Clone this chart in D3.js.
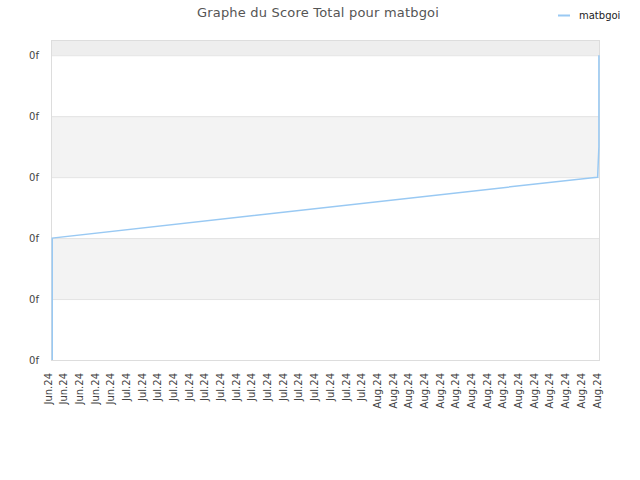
<!DOCTYPE html>
<html><head><meta charset="utf-8">
<script src="https://cdn.jsdelivr.net/npm/d3@7"></script>
<style>body{margin:0;background:#fff;}</style>
</head><body>
<svg id="c" width="640" height="480"></svg>
<script>
const title = "Graphe du Score Total pour matbgoi";
const seriesName = "matbgoi";
const xLabels = [
 "Jun.24","Jun.24","Jun.24","Jun.24","Jun.24",
 "Jul.24","Jul.24","Jul.24","Jul.24","Jul.24","Jul.24","Jul.24","Jul.24",
 "Jul.24","Jul.24","Jul.24","Jul.24","Jul.24","Jul.24","Jul.24","Jul.24",
 "Aug.24","Aug.24","Aug.24","Aug.24","Aug.24","Aug.24","Aug.24","Aug.24",
 "Aug.24","Aug.24","Aug.24","Aug.24","Aug.24","Aug.24","Aug.24"];
const yTicks = [0,1,2,3,4,5];
const yTickLabels = ["0f","0f","0f","0f","0f","0f"];
// series: position along the category axis (index) and score value
const seriesX = [0.08, 0.08, 0.08, 0.08, 0.08, 34.82, 34.85, 34.93, 34.93];
const seriesY = [0, 0.2, 0.6, 1.4, 2.0, 3.0, 3.0, 3.5, 5.0];

const svg = d3.select("#c");
const m = {l:51, r:600, t:40, b:360};
const x = d3.scaleLinear().domain([0, xLabels.length-1]).range([m.l, m.r]);
const y = d3.scaleLinear().domain([0, 5.25]).range([m.b, m.t]);

// bands
const bands = [[5,5.25,"#eeeeee"],[3,4,"#f3f3f3"],[1,2,"#f3f3f3"]];
svg.selectAll("rect.band").data(bands).enter().append("rect")
  .attr("x", m.l).attr("width", m.r-m.l)
  .attr("y", d=>y(d[1])).attr("height", d=>y(d[0])-y(d[1]))
  .attr("fill", d=>d[2]);
// grid lines
svg.selectAll("line.g").data(yTicks.slice(1)).enter().append("line")
  .attr("x1", m.l).attr("x2", m.r).attr("y1", d=>y(d)+0.5).attr("y2", d=>y(d)+0.5)
  .attr("stroke","#e3e3e3");
// frame
svg.append("rect").attr("x", m.l+0.5).attr("y", m.t+0.5).attr("width", m.r-m.l-1).attr("height", m.b-m.t)
  .attr("fill","none").attr("stroke","#dddddd");

// y axis
const ya = d3.axisLeft(y).tickValues(yTicks).tickSize(0).tickPadding(12)
  .tickFormat((d,i)=>yTickLabels[i]);
const yg = svg.append("g").attr("transform",`translate(${m.l},0)`).call(ya);
yg.select(".domain").remove();
yg.selectAll("text").attr("font-family","DejaVu Sans").attr("font-size","10px").attr("fill","#444");

// x axis
const xa = d3.axisBottom(x).tickValues(d3.range(xLabels.length)).tickSize(0).tickFormat(i=>xLabels[i]);
const xg = svg.append("g").attr("transform",`translate(0,${m.b})`).call(xa);
xg.select(".domain").remove();
xg.selectAll("text").attr("font-family","DejaVu Sans").attr("font-size","10px").attr("fill","#444")
  .attr("text-anchor","end").attr("transform","rotate(-90)")
  .attr("x",-13).attr("y",-3.5).attr("dy","0.35em");

// line
const line = d3.line().x((d,i)=>x(seriesX[i])).y(d=>y(d));
svg.append("path").datum(seriesY).attr("d", line)
  .attr("fill","none").attr("stroke","#99c9f3").attr("stroke-width",1.5);

// title
svg.append("text").attr("x",318).attr("y",17).attr("text-anchor","middle")
  .attr("font-family","DejaVu Sans").attr("font-size","13px").attr("letter-spacing","0.2px")
  .attr("fill","#555").text(title);
// legend
svg.append("line").attr("x1",558).attr("x2",570).attr("y1",15.5).attr("y2",15.5)
  .attr("stroke","#99c9f3").attr("stroke-width",2);
svg.append("text").attr("x",579).attr("y",19).attr("font-family","DejaVu Sans")
  .attr("font-size","10px").attr("fill","#222").text(seriesName);
</script>
</body></html>
